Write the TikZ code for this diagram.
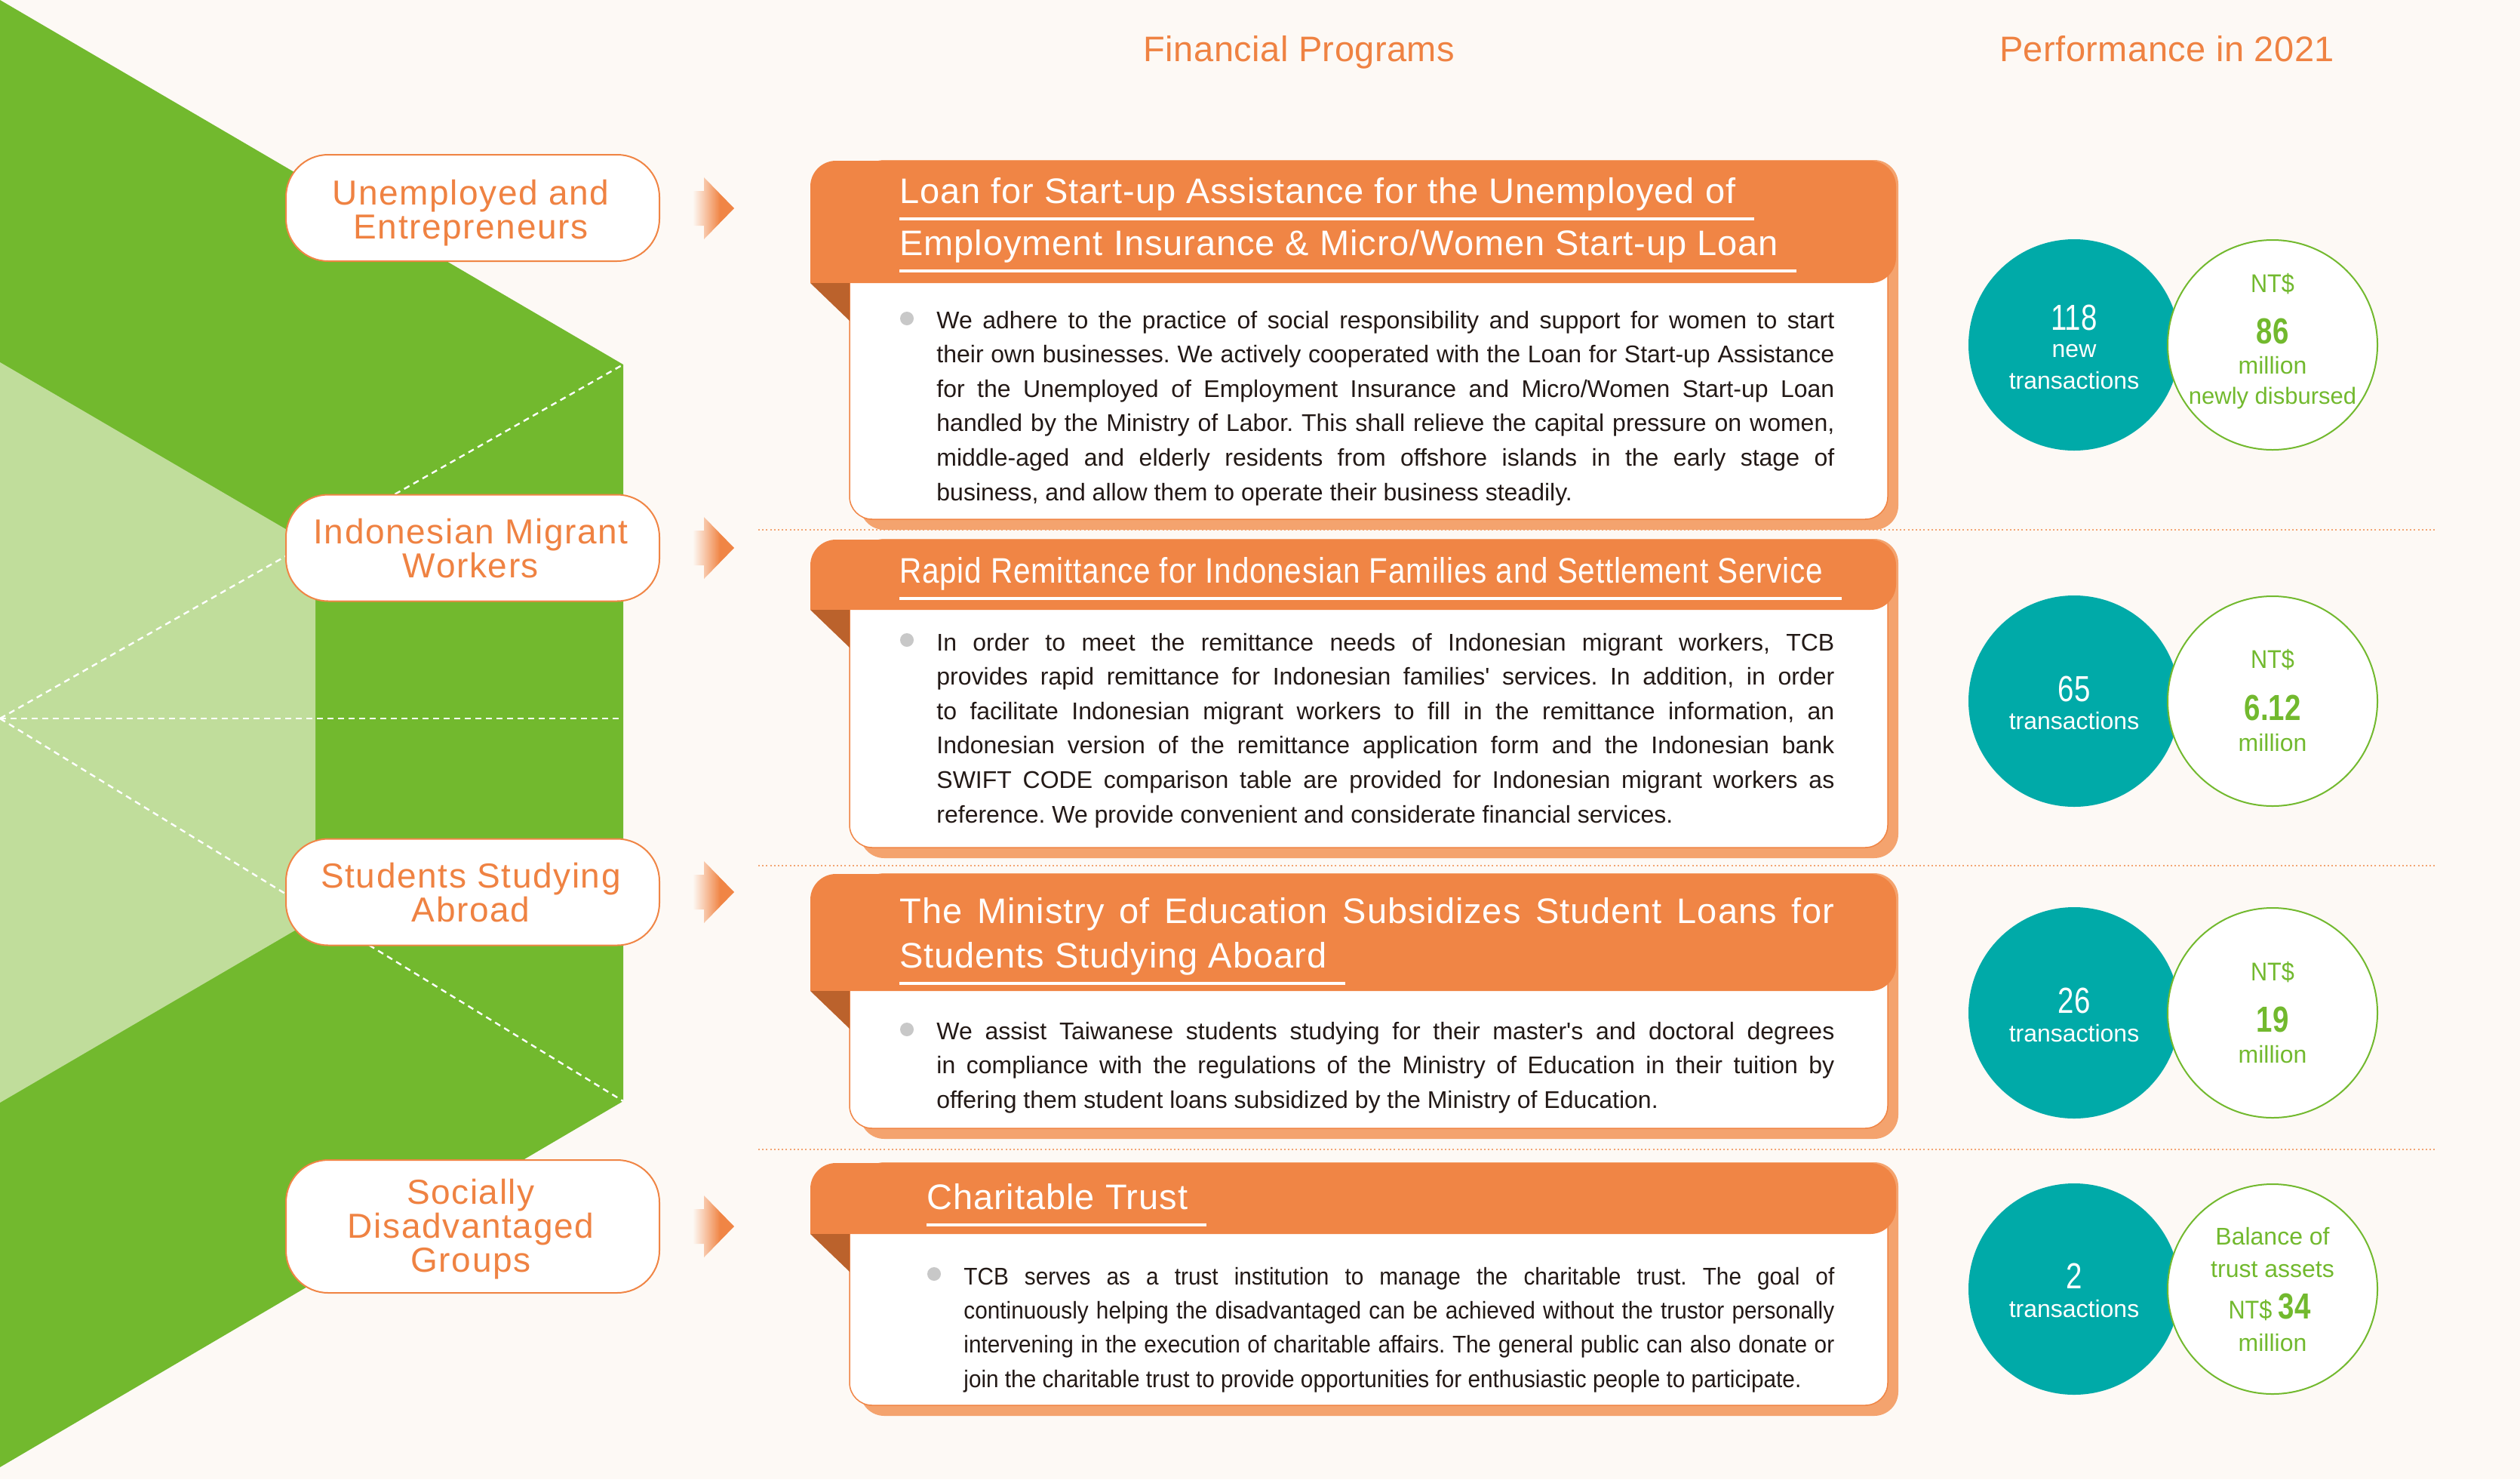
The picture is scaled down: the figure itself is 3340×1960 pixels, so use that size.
\documentclass[tikz,border=0pt]{standalone}
\usepackage{fontspec}
\usepackage{graphicx}
\setmainfont{Liberation Sans}
\newfontfamily\lblfont[LetterSpace=3.5]{Liberation Sans}
\newfontfamily\hdfont[LetterSpace=1]{Liberation Sans}
\newfontfamily\ttlfont[LetterSpace=2]{Liberation Sans}
\newfontfamily\numfont[FakeStretch=0.8]{Liberation Sans}
\newfontfamily\ntfont[FakeStretch=0.9]{Liberation Sans}
\newfontfamily\bodyfont{Liberation Sans}
\newfontfamily\bodycfont[FakeStretch=0.93]{Liberation Sans}
\frenchspacing
\definecolor{bgc}{RGB}{253,249,245}
\definecolor{dgreen}{RGB}{114,185,46}
\definecolor{lgreen}{RGB}{192,221,155}
\definecolor{orng}{RGB}{240,133,69}
\definecolor{otext}{RGB}{239,130,66}
\definecolor{foldc}{RGB}{187,98,44}
\definecolor{shad}{RGB}{244,163,110}
\definecolor{tealc}{RGB}{0,170,168}
\definecolor{bodytxt}{RGB}{35,25,22}
\definecolor{bulletc}{RGB}{200,200,200}
\definecolor{dotc}{RGB}{243,165,115}
\pgfdeclarehorizontalshading{arrowfade}{100bp}{color(0bp)=(bgc); color(25bp)=(bgc); color(40bp)=(orng!45!bgc); color(58bp)=(orng); color(100bp)=(orng)}
\newcommand\drawcard[3]{%
  \fill[shad, rounded corners=16pt] (1140,{#1-1}) rectangle (2516,{#3+14});
  \filldraw[fill=white, draw=orng, line width=0.75pt, rounded corners=15pt] (1126,{#2-40}) rectangle (2502,#3);
  \fill[orng, rounded corners=17pt] (1074,#1) rectangle (2513,#2);
  \fill[orng] (1074,{#2-40}) rectangle (1120,#2);
  \fill[foldc] (1074,#2) -- (1126,#2) -- (1126,{#2+50}) -- cycle;
}
\newcommand\orarrow[1]{%
  \shade[shading=arrowfade] (918,{#1-23}) -- (933,{#1-23}) -- (933,{#1-41}) -- (973,#1) -- (933,{#1+41}) -- (933,{#1+23}) -- (918,{#1+23}) -- cycle;
}
\newcommand\nobreakset{\hyphenpenalty=10000\relax\exhyphenpenalty=10000\relax\tolerance=10000\relax\frenchspacing}
\begin{document}
\begin{tikzpicture}[x=0.5pt,y=-0.5pt,
  lblbox/.style={draw=orng, line width=1pt, fill=white, rounded corners=28pt, minimum width=247.5pt, minimum height=70.5pt, inner sep=0pt},
  lbltext/.style={text=otext, font=\lblfont\fontsize{23pt}{22.5pt}\selectfont, align=center, inner sep=0pt},
  hdtext/.style={text=otext, font=\hdfont\fontsize{23.5pt}{28pt}\selectfont, inner sep=0pt, anchor=base},
  ttl/.style={text=white, font=\ttlfont\fontsize{23.5pt}{28pt}\selectfont, inner sep=0pt, anchor=base west},
  uline/.style={white, line width=2pt},
  bodyp/.style={text=bodytxt, font=\bodyfont\fontsize{16pt}{22.8pt}\selectfont\nobreakset, text width=595pt, align=justify, inner sep=0pt, anchor=base west},
  tcirc/.style={circle, fill=tealc, minimum size=140pt, inner sep=0pt},
  gcirc/.style={circle, fill=white, draw=dgreen, line width=1pt, minimum size=139pt, inner sep=0pt},
  bignum/.style={font=\numfont\fontsize{24pt}{24pt}\selectfont, inner sep=0pt, anchor=base},
  cword/.style={font=\bodyfont\fontsize{16pt}{16pt}\selectfont, inner sep=0pt, anchor=base},
  ntword/.style={font=\ntfont\fontsize{17pt}{17pt}\selectfont, inner sep=0pt, anchor=base},
  dashl/.style={white, line width=1.2pt, dash pattern=on 4pt off 3pt},
  sepl/.style={dotc, line width=1pt, dash pattern=on 1pt off 1.6pt}
]
\useasboundingbox (0,0) rectangle (3340,1960);
\fill[bgc] (0,0) rectangle (3340,1960);
% green shapes
\fill[dgreen] (0,0) -- (826,483) -- (826,1459) -- (0,1944) -- cycle;
\fill[lgreen] (0,480) -- (418,724) -- (418,1217) -- (0,1461) -- cycle;
\coordinate (apex) at (0,952);
\coordinate (gtr) at (826,483);
\coordinate (gmr) at (826,952);
\coordinate (gbr) at (826,1459);
\draw[dashl] (apex) -- (gtr);
\draw[dashl] (apex) -- (gmr);
\draw[dashl] (apex) -- (gbr);
% headings
\node[hdtext] (hfp) at (1722,81) {Financial Programs};
\node[hdtext] (hperf) at (2872,81) {Performance in 2021};
% separators
\coordinate (s1l) at (1005,702); \coordinate (s1r) at (3227,702);
\coordinate (s2l) at (1005,1147); \coordinate (s2r) at (3227,1147);
\coordinate (s3l) at (1005,1523); \coordinate (s3r) at (3227,1523);
\draw[sepl] (s1l) -- (s1r);
\draw[sepl] (s2l) -- (s2r);
\draw[sepl] (s3l) -- (s3r);
% label boxes
\node[lblbox] (lb1) at (626.5,275.5) {};
\node[lblbox] (lb2) at (626.5,726) {};
\node[lblbox] (lb3) at (626.5,1182) {};
\node[lblbox, minimum height=88pt] (lb4) at (626.5,1625) {};
\node[lbltext] (lt1) at (624,282) {Unemployed and\\Entrepreneurs};
\node[lbltext] (lt2) at (624,727) {Indonesian Migrant\\Workers};
\node[lbltext] (lt3) at (624,1183) {Students Studying\\Abroad};
\node[lbltext] (lt4) at (624,1629) {Socially\\Disadvantaged\\Groups};
% arrows
\orarrow{276}
\orarrow{726}
\orarrow{1182}
\orarrow{1625}
% cards
\drawcard{213}{375}{688}
\drawcard{715}{808}{1123}
\drawcard{1158}{1313}{1495}
\drawcard{1541}{1635}{1862}
% titles
\node[ttl] (t11) at (1192,269) {Loan for Start-up Assistance for the Unemployed of};
\node[ttl] (t12) at (1192,338) {Employment Insurance \& Micro/Women Start-up Loan};
\draw[uline] ([yshift=-10.5pt]t11.base west) -- ([xshift=12pt,yshift=-10.5pt]t11.base east);
\draw[uline] ([yshift=-10.5pt]t12.base west) -- ([xshift=12pt,yshift=-10.5pt]t12.base east);
\node[ttl] (t21) at (1192,772) {\scalebox{0.86}[1]{Rapid Remittance for Indonesian Families and Settlement Service}};
\draw[uline] ([yshift=-10.5pt]t21.base west) -- ([xshift=12pt,yshift=-10.5pt]t21.base east);
\node[ttl] (t31) at (1192,1223) {\makebox[619.5pt][s]{The Ministry of Education Subsidizes Student Loans for}};
\node[ttl] (t32) at (1192,1282) {Students Studying Aboard};
\draw[uline] ([yshift=-10.5pt]t32.base west) -- ([xshift=12pt,yshift=-10.5pt]t32.base east);
\node[ttl] (t41) at (1228,1602) {Charitable Trust};
\draw[uline] ([yshift=-10.5pt]t41.base west) -- ([xshift=12pt,yshift=-10.5pt]t41.base east);
% bullets
\fill[bulletc] (1202,422) circle (4.5pt);
\fill[bulletc] (1202,848) circle (4.5pt);
\fill[bulletc] (1202,1364) circle (4.5pt);
\fill[bulletc] (1238,1688) circle (4.5pt);
% body texts
\node[bodyp] (b1) at (1241,435) {We adhere to the practice of social responsibility and support for women to start\linebreak their own businesses. We actively cooperated with the Loan for Start-up Assistance\linebreak for the Unemployed of Employment Insurance and Micro/Women Start-up Loan\linebreak handled by the Ministry of Labor. This shall relieve the capital pressure on women,\linebreak middle-aged and elderly residents from offshore islands in the early stage of\linebreak business, and allow them to operate their business steadily.};
\node[bodyp] (b2) at (1241,862) {In order to meet the remittance needs of Indonesian migrant workers, TCB\linebreak provides rapid remittance for Indonesian families' services. In addition, in order\linebreak to facilitate Indonesian migrant workers to fill in the remittance information, an\linebreak Indonesian version of the remittance application form and the Indonesian bank\linebreak SWIFT CODE comparison table are provided for Indonesian migrant workers as\linebreak reference. We provide convenient and considerate financial services.};
\node[bodyp] (b3) at (1241,1377) {We assist Taiwanese students studying for their master's and doctoral degrees\linebreak in compliance with the regulations of the Ministry of Education in their tuition by\linebreak offering them student loans subsidized by the Ministry of Education.};
\node[bodyp, text width=577pt, font=\bodycfont\fontsize{16pt}{22.7pt}\selectfont\nobreakset] (b4) at (1277,1702) {TCB serves as a trust institution to manage the charitable trust. The goal of\linebreak continuously helping the disadvantaged can be achieved without the trustor personally\linebreak intervening in the execution of charitable affairs. The general public can also donate or\linebreak join the charitable trust to provide opportunities for enthusiastic people to participate.};
% circles row 1
\node[tcirc] (c1a) at (2749,457) {};
\node[gcirc] (c1b) at (3012,457) {};
\node[bignum, text=white] (n1a) at (2749,437) {118};
\node[cword, text=white] (w1a) at (2749,473) {new};
\node[cword, text=white] (w1b) at (2749,515) {transactions};
\node[ntword, text=dgreen] (nt1) at (3012,387) {NT\$};
\node[bignum, text=dgreen, font=\numfont\bfseries\fontsize{24pt}{24pt}\selectfont] (n1b) at (3012,455) {86};
\node[cword, text=dgreen] (w1c) at (3012,495) {million};
\node[cword, text=dgreen, font=\bodyfont\fontsize{15.5pt}{16pt}\selectfont] (w1d) at (3012,535) {newly disbursed};
% row 2
\node[tcirc] (c2a) at (2749,929) {};
\node[gcirc] (c2b) at (3012,929) {};
\node[bignum, text=white] (n2a) at (2749,929) {65};
\node[cword, text=white] (w2a) at (2749,966) {transactions};
\node[ntword, text=dgreen] (nt2) at (3012,885) {NT\$};
\node[bignum, text=dgreen, font=\numfont\bfseries\fontsize{24pt}{24pt}\selectfont] (n2b) at (3012,954) {6.12};
\node[cword, text=dgreen] (w2c) at (3012,995) {million};
% row 3
\node[tcirc] (c3a) at (2749,1342) {};
\node[gcirc] (c3b) at (3012,1342) {};
\node[bignum, text=white] (n3a) at (2749,1342) {26};
\node[cword, text=white] (w3a) at (2749,1380) {transactions};
\node[ntword, text=dgreen] (nt3) at (3012,1299) {NT\$};
\node[bignum, text=dgreen, font=\numfont\bfseries\fontsize{24pt}{24pt}\selectfont] (n3b) at (3012,1367) {19};
\node[cword, text=dgreen] (w3c) at (3012,1408) {million};
% row 4
\node[tcirc] (c4a) at (2749,1708) {};
\node[gcirc] (c4b) at (3012,1708) {};
\node[bignum, text=white] (n4a) at (2749,1707) {2};
\node[cword, text=white] (w4a) at (2749,1745) {transactions};
\node[cword, text=dgreen] (w4b) at (3012,1649) {Balance of};
\node[cword, text=dgreen] (w4c) at (3012,1692) {trust assets};
\node[ntword, text=dgreen] (nt4) at (3008,1747) {NT\$ {\numfont\bfseries\fontsize{24pt}{24pt}\selectfont 34}};
\node[cword, text=dgreen] (w4d) at (3012,1790) {million};
\end{tikzpicture}
\end{document}
